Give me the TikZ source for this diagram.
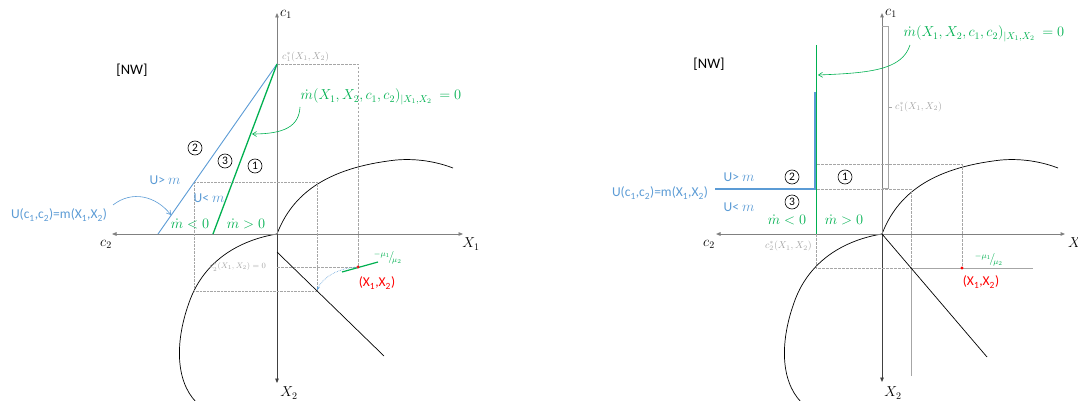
\documentclass[tikz,border=0pt]{standalone}
\usepackage{fontspec}
\setmainfont{Carlito}
\usetikzlibrary{arrows.meta,positioning}
\definecolor{nwblue}{HTML}{5B9BD5}
\definecolor{nwgreen}{HTML}{00B050}
\definecolor{nwgray}{HTML}{A6A6A6}
\definecolor{nwred}{HTML}{FF0000}

\begin{document}
\begin{tikzpicture}[x=1pt,y=-1pt,
    axis/.style={-{Triangle[length=4.5pt,width=3.6pt]},draw=black!50,line width=0.8pt},
    axlbl/.style={inner sep=0pt,font=\fontsize{14}{14}\selectfont},
    curve/.style={draw=black,line width=0.7pt},
    guide/.style={draw=nwgray,dash pattern=on 2.5pt off 1.5pt,line width=0.5pt},
    dotguide/.style={draw=nwgray,dash pattern=on 0.7pt off 0.7pt,line width=0.6pt},
    circnum/.style={circle,draw=black,line width=0.6pt,inner sep=0pt,minimum size=14pt,font=\fontsize{11.5}{11.5}\selectfont},
    bluetxt/.style={text=nwblue,inner sep=0pt,font=\fontsize{13.5}{14}\selectfont},
    greentxt/.style={text=nwgreen,inner sep=0pt,font=\fontsize{14}{14}\selectfont},
    graytxt/.style={text=nwgray,inner sep=0pt,font=\fontsize{10}{10}\selectfont},
    arrb/.style={-{Straight Barb[length=4pt,width=5pt]},line width=0.6pt}]
  \useasboundingbox (0,0) rectangle (1078,401);

  % frontier curves, same in both panels
  \foreach \dx in {0,605}{
    \begin{scope}[xshift=\dx]
      \draw[curve] (277,234) .. controls (292,195) and (325,168) .. (396,160)
                             .. controls (420,158) and (440,163) .. (453,168);
      \draw[curve] (277,234) .. controls (240,240) and (205,260) .. (190,300)
                             .. controls (175,340) and (175,380) .. (196,402);
    \end{scope}
  }

  % ---------------- left panel ----------------
  \coordinate (O1) at (277,234);
  \coordinate (c1a) at (277,13);
  \coordinate (c2a) at (112,234);
  \coordinate (x1a) at (463,234);
  \coordinate (x2a) at (277,383);
  \draw[axis] (O1) -- (c1a);
  \draw[axis] (O1) -- (c2a);
  \draw[axis] (O1) -- (x1a);
  \draw[axis,draw=black!75] (O1) -- (x2a);
  \node[axlbl,anchor=west] (lc1) at (280,14) {$c_1$};
  \node[axlbl] (lc2) at (106,244) {$c_2$};
  \node[axlbl] (lx1) at (471,244) {$X_1$};
  \node[axlbl] (lx2) at (289,393) {$X_2$};
  \node[font=\fontsize{14.5}{14.5}\selectfont] (nw1) at (132,70) {[NW]};

  \coordinate (A) at (277,64);
  \coordinate (P) at (358,267);
  \draw[guide] (A) -- (358,64) -- (P);
  \draw[guide] (277,267) -- (P);
  \draw[dotguide] (194,182) rectangle (317,291);
  \node[graytxt,anchor=south west] (lstar1) at (282,62) {$c_1^*(X_1,X_2)$};
  \node[graytxt,anchor=east,font=\fontsize{8}{8}\selectfont] (lstar2) at (266,267) {$c_2^*(X_1,X_2)=0$};

  \draw[curve] (277,252) -- (384,356);

  % locus lines
  \draw[nwblue,line width=0.9pt] (A) -- (158,234);
  \draw[nwgreen,line width=1.3pt] (A) -- (213,234);
  \draw[nwgreen,line width=1.2pt] (342,272) -- (378,262);
  \fill[nwred] (P) circle (1.6pt);
  \coordinate (Q) at (317,290);
  \draw[nwblue,densely dotted,line width=0.6pt,-{Stealth[length=3.5pt,width=3pt]}] (P) .. controls (336,268) and (322,279) .. (Q);

  \node[greentxt] (mdot1) at (381,97) {$\dot m(X_1,X_2,c_1,c_2)_{|X_1,X_2}\ =0$};
  \coordinate (g1) at (252,134);
  \draw[arrb,nwgreen] (300,107) .. controls (299,126) and (285,134) .. (g1);

  \node[bluetxt] (ueq1) at (59,215) {U(c\textsubscript{1},c\textsubscript{2})=m(X\textsubscript{1},X\textsubscript{2})};
  \coordinate (u1) at (171,215);
  \draw[arrb,nwblue] (113,205) .. controls (132,190) and (156,196) .. (u1);
  \node[bluetxt] (ugt1) at (165,180) {U> $m$};
  \node[bluetxt] (ult1) at (209,198) {U< $m$};
  \node[greentxt] (mlt1) at (190,224) {$\dot m<0$};
  \node[greentxt] (mgt1) at (246,224) {$\dot m>0$};
  \node[circnum] (two1) at (195,148) {2};
  \node[circnum] (three1) at (225,161) {3};
  \node[circnum] (one1) at (255,166) {1};
  \node[greentxt,font=\fontsize{12}{12}\selectfont] (mu1) at (388,258) {${}^{-\mu_1}\!/\!_{\mu_2}$};
  \node[text=nwred,font=\fontsize{13.5}{14}\selectfont] (pt1) at (377,283) {(X\textsubscript{1},X\textsubscript{2})};

  % ---------------- right panel ----------------
  \coordinate (O2) at (882,234);
  \coordinate (c1b) at (882,13);
  \coordinate (c2b) at (716,234);
  \coordinate (x1b) at (1065,234);
  \coordinate (x2b) at (882,382);
  \draw[axis,line width=1pt] (O2) -- (c1b);
  \draw[axis,line width=1pt] (O2) -- (c2b);
  \draw[axis,line width=1pt] (O2) -- (x1b);
  \draw[axis,draw=black!75] (O2) -- (x2b);
  \node[axlbl,anchor=west] (rc1) at (885,13) {$c_1$};
  \node[axlbl] (rc2) at (709,244) {$c_2$};
  \node[axlbl,anchor=west] (rx1) at (1068,244) {$X_1$};
  \node[axlbl] (rx2) at (893,393) {$X_2$};
  \node[font=\fontsize{14.5}{14.5}\selectfont] (nw2) at (709,64) {[NW]};

  \coordinate (P2) at (962,268);
  \draw[guide] (817,164) -- (962,164) -- (P2);
  \draw[guide] (817,189) -- (911,189) -- (911,268);
  \draw[guide] (816,234) -- (816,268) -- (911,268);
  \draw[draw=nwgray,line width=0.7pt] (911,268) -- (911,376);
  \draw[draw=nwgray,line width=0.9pt] (911,268) -- (1033,268);
  \draw[draw=nwgray,line width=0.6pt] (882,26) -- (888,26) -- (888,188) -- (882,188);
  \draw[draw=nwgray,line width=0.6pt] (888,107) -- (892,107);
  \node[graytxt,anchor=west] (rstar1) at (895,107) {$c_1^*(X_1,X_2)$};
  \node[graytxt,anchor=east] (rstar2) at (812,246) {$c_2^*(X_1,X_2)$};

  \draw[curve] (O2) -- (987,357);

  \draw[nwblue,line width=1.6pt] (815,92) -- (815,189) -- (715,189);
  \draw[nwgreen,line width=1.2pt] (816.8,45) -- (816.8,234);
  \fill[nwred] (P2) circle (1.6pt);

  \node[greentxt] (mdot2) at (984,34) {$\dot m(X_1,X_2,c_1,c_2)_{|X_1,X_2}\ =0$};
  \coordinate (g2) at (818,75);
  \draw[arrb,nwgreen] (910,45) .. controls (902,70) and (870,73) .. (g2);

  \node[bluetxt] (ueq2) at (660,193) {U(c\textsubscript{1},c\textsubscript{2})=m(X\textsubscript{1},X\textsubscript{2})};
  \node[bluetxt] (ugt2) at (739,177) {U> $m$};
  \node[bluetxt] (ult2) at (739,207) {U< $m$};
  \node[greentxt] (mlt2) at (787,220) {$\dot m<0$};
  \node[greentxt] (mgt2) at (844,220) {$\dot m>0$};
  \node[circnum] (two2) at (792,177) {2};
  \node[circnum] (three2) at (792,202) {3};
  \node[circnum] (one2) at (845,177) {1};
  \node[greentxt,font=\fontsize{12}{12}\selectfont] (mu2) at (989,260) {${}^{-\mu_1}\!/\!_{\mu_2}$};
  \node[text=nwred,font=\fontsize{13.5}{14}\selectfont] (pt2) at (981,282) {(X\textsubscript{1},X\textsubscript{2})};
\end{tikzpicture}
\end{document}
